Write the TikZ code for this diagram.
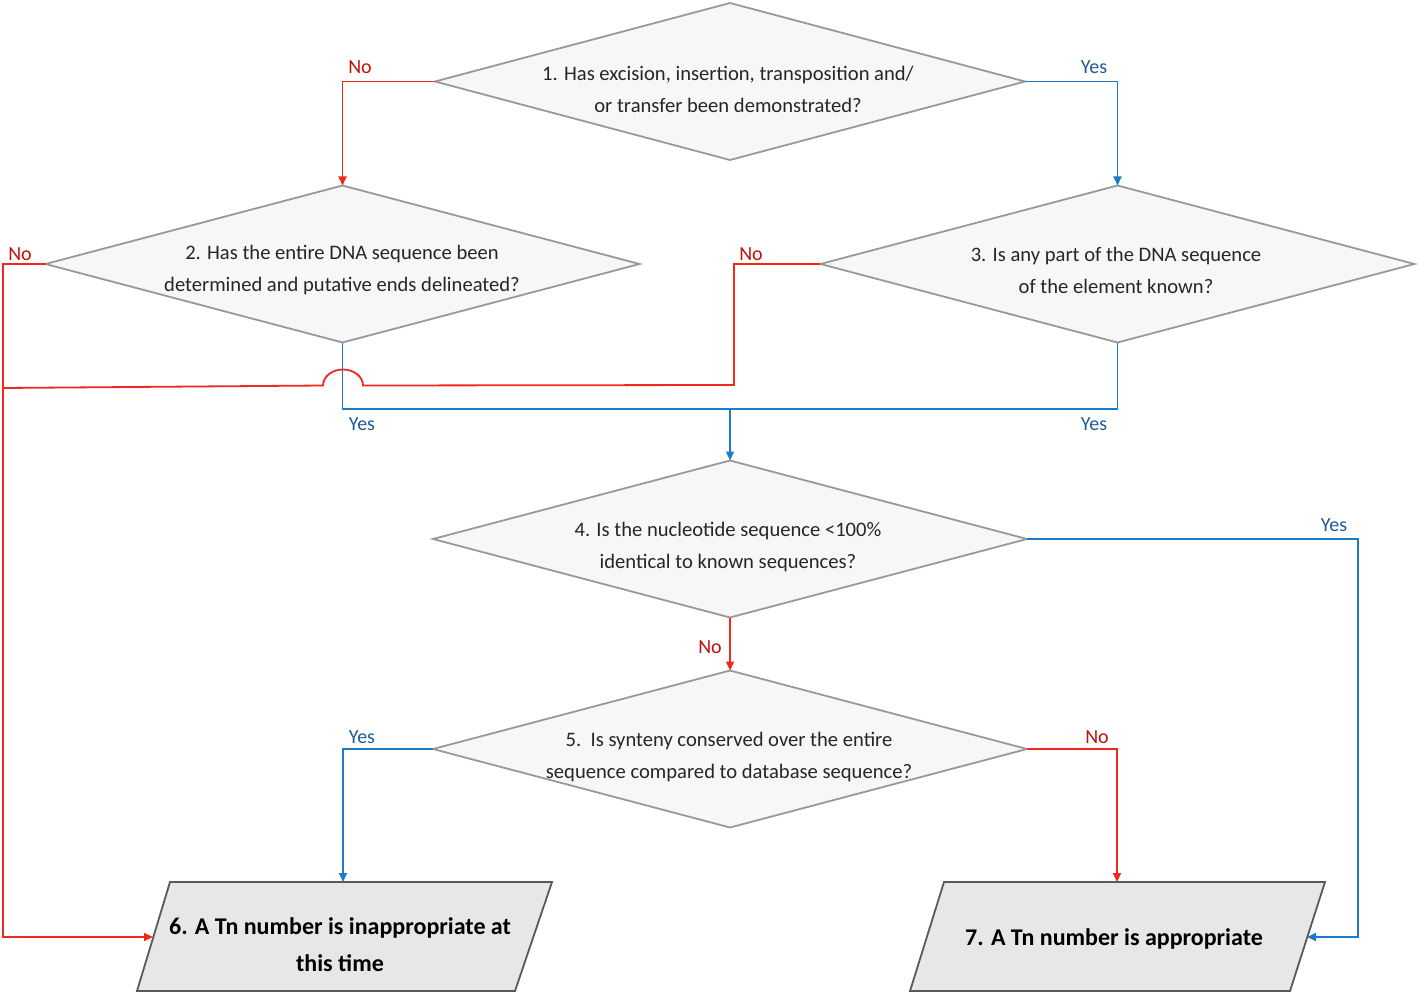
\documentclass[tikz,border=0pt]{standalone}
\usepackage{fontspec}
\setmainfont{Carlito}
\usetikzlibrary{shapes.geometric,arrows.meta}
\definecolor{lnred}{HTML}{F0281E}
\definecolor{lnblue}{HTML}{1F7BC6}
\definecolor{lbred}{HTML}{C0100A}
\definecolor{lbblue}{HTML}{1E5A96}
\definecolor{dfill}{HTML}{F7F7F7}
\definecolor{dborder}{HTML}{999999}
\definecolor{pfill}{HTML}{E7E7E7}
\definecolor{pborder}{HTML}{595959}
\definecolor{dtext}{HTML}{262626}
\begin{document}
\begin{tikzpicture}[x=1pt,y=-1pt,
 dia/.style={diamond,draw=dborder,fill=dfill,line width=1.8pt,inner sep=0pt,outer sep=0pt,minimum width=594pt,minimum height=157pt},
 dtxt/.style={font=\fontsize{20.6}{32}\selectfont,text=dtext,align=center,inner sep=0pt},
 paraline/.style={draw=pborder,fill=pfill,line width=1.8pt,line join=miter},
 ptxt/.style={font=\fontsize{24}{37}\selectfont\bfseries,text=black,align=center,inner sep=0pt},
 rl/.style={draw=lnred,line width=1.8pt},
 bl/.style={draw=lnblue,line width=1.8pt},
 tip/.style={-{Triangle[length=9pt,width=8pt]}},
 nol/.style={text=lbred,font=\fontsize{20}{22}\selectfont,inner sep=0pt},
 yesl/.style={text=lbblue,font=\fontsize{20}{22}\selectfont,inner sep=0pt},
]
\path[use as bounding box] (0,0) rectangle (1418,995);

% diamonds
\node[dia,minimum width=590pt] (d1) at (730,81.5) {};
\node[dia] (d2) at (342.5,264) {};
\node[dia] (d3) at (1117.5,264) {};
\node[dia] (d4) at (730,539) {};
\node[dia] (d5) at (730,749) {};
\node[dtxt] (d1t) at (728,89) {1. Has excision, insertion, transposition and/\\or transfer been demonstrated?};
\node[dtxt] (d2t) at (342,270) {2. Has the entire DNA sequence been\\determined and putative ends delineated?};
\node[dtxt] (d3t) at (1116,270) {3. Is any part of the DNA sequence\\of the element known?};
\node[dtxt] (d4t) at (728,547) {4. Is the nucleotide sequence <100\%\\identical to known sequences?};
\node[dtxt] (d5t) at (729,757) {5.\ \ Is synteny conserved over the entire\\sequence compared to database sequence?};

% parallelograms (drawn directly)
\path[paraline] (170,882) -- (552,882) -- (515,991) -- (137,991) -- cycle;
\path[paraline] (944,882) -- (1325,882) -- (1290,991) -- (910,991) -- cycle;
\coordinate (p6n) at (343,882);
\coordinate (p6w) at (153,937);
\coordinate (p7n) at (1117,882);
\coordinate (p7e) at (1307,937);
\node[ptxt] (p6) at (340,945) {6. A Tn number is inappropriate at\\this time};
\node[ptxt] (p7) at (1114,939) {7. A Tn number is appropriate};

% coordinates
\coordinate (m) at (730,409);
\coordinate (j) at (3,388);

% connectors
\draw[rl,tip] (d1.west) -| (d2.north);
\draw[bl,tip] (d1.east) -| (d3.north);
\draw[rl,tip] (d2.west) -- (3,264) |- (p6w);
\draw[rl] (d3.west) -- (734,264) -- (734,385) -- (363,385.5)
   arc[start angle=0,end angle=-180,x radius=20,y radius=16] -- (j);
\draw[bl] (d2.south) |- (m) -| (d3.south);
\draw[bl,tip] (m) -- (d4.north);
\draw[bl,tip] (d4.east) -- (1358,539) |- (p7e);
\draw[rl,tip] (d4.south) -- (d5.north);
\draw[bl,tip] (d5.west) -| (p6n);
\draw[rl,tip] (d5.east) -| (p7n);

% labels
\node[nol] (l1) at (360,67) {No};
\node[yesl] (l2) at (1094,67) {Yes};
\node[nol] (l3) at (20,254) {No};
\node[nol] (l4) at (751,254) {No};
\node[yesl] (l5) at (362,424) {Yes};
\node[yesl] (l6) at (1094,424) {Yes};
\node[yesl] (l7) at (1334,525) {Yes};
\node[nol] (l8) at (710,647) {No};
\node[yesl] (l9) at (362,737) {Yes};
\node[nol] (l10) at (1097,737) {No};
\end{tikzpicture}
\end{document}
